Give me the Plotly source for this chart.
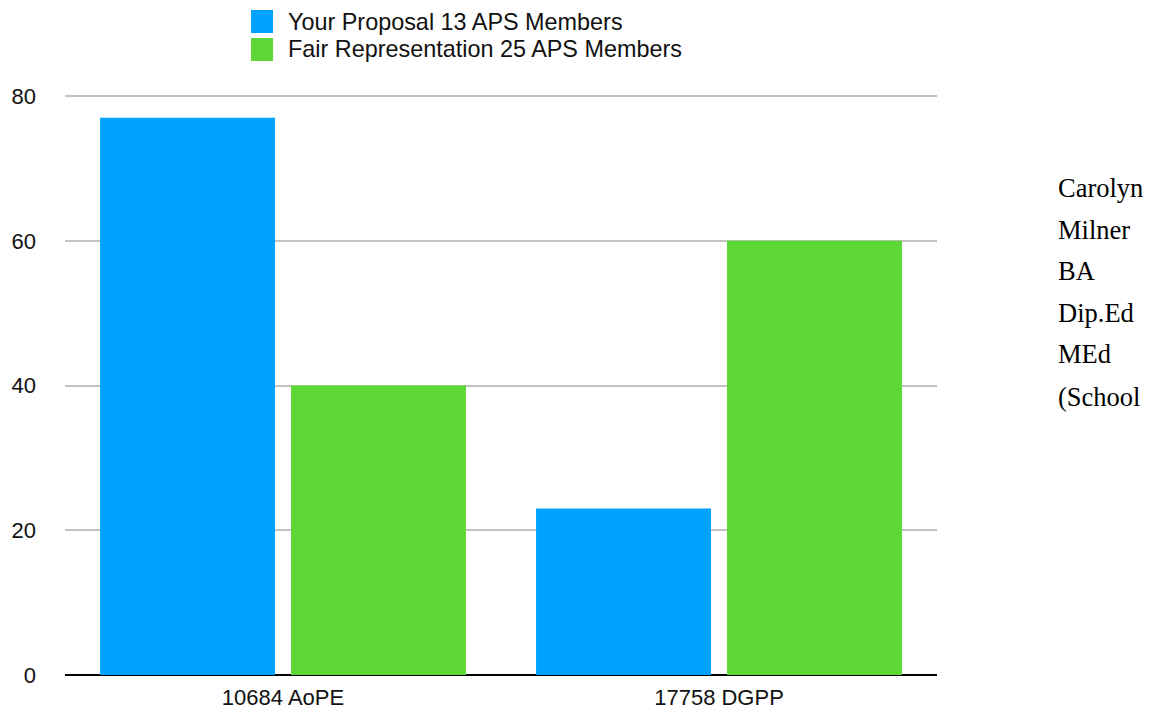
import plotly.graph_objects as go

categories = ["10684 AoPE", "17758 DGPP"]
series_names = ["Your Proposal 13 APS Members", "Fair Representation 25 APS Members"]
proposal_values = [77, 23]
fair_values = [40, 60]
colors = ["#00A2FF", "#5DD836"]
y_ticks = [0, 20, 40, 60, 80]
side_text = ["Carolyn", "Milner", "BA", "Dip.Ed", "MEd", "(School"]

W, H = 1151, 710
L, R, T, B = 65, 214, 95, 35
pw, ph = W - L - R, H - T - B

def px_x(x):
    return (x - L) / pw

def px_y(y):
    return (H - B - y) / ph

fig = go.Figure()
for name, vals, col in zip(series_names, [proposal_values, fair_values], colors):
    fig.add_trace(go.Bar(x=categories, y=vals, name=name, marker=dict(color=col, line=dict(width=0)),
                         showlegend=False))

# manual legend
leg_rows = [(10, 33), (38, 61)]
for (y0, y1), name, col in zip(leg_rows, series_names, colors):
    fig.add_shape(type="rect", xref="paper", yref="paper",
                  x0=px_x(251), x1=px_x(273), y0=px_y(y1), y1=px_y(y0),
                  fillcolor=col, line=dict(width=0))
    fig.add_annotation(text=name, xref="paper", yref="paper", x=px_x(286), y=px_y((y0 + y1) / 2),
                       xanchor="left", yanchor="middle", showarrow=False,
                       font=dict(size=23.4, color="#111111", family="Liberation Sans, Arial, sans-serif"))

# side text
side_y = [188, 230, 271, 313, 354, 397]
for t, yy in zip(side_text, side_y):
    fig.add_annotation(text=t, xref="paper", yref="paper", x=px_x(1056), y=px_y(yy),
                       xanchor="left", yanchor="middle", showarrow=False,
                       font=dict(size=26.5, color="#000000", family="Liberation Serif, Times New Roman, serif"))

fig.update_layout(
    width=W, height=H,
    margin=dict(l=L, r=R, t=T, b=B, pad=0, autoexpand=False),
    paper_bgcolor="white", plot_bgcolor="white",
    barmode="group", bargap=0.124, bargroupgap=0.084,
    font=dict(family="Liberation Sans, Arial, sans-serif", size=22, color="#111111"),
    xaxis=dict(showgrid=False, showline=False, ticks="", tickfont=dict(size=22),
               ticklabelstandoff=7, automargin=False),
    yaxis=dict(range=[0, 80.15], tickvals=y_ticks, showgrid=True, gridcolor="#C2C2C2", gridwidth=2,
               zeroline=True, zerolinecolor="#000000", zerolinewidth=2, showline=False,
               ticks="", tickfont=dict(size=22), ticklabelstandoff=28, automargin=False),
)

fig.write_html("out.html")
